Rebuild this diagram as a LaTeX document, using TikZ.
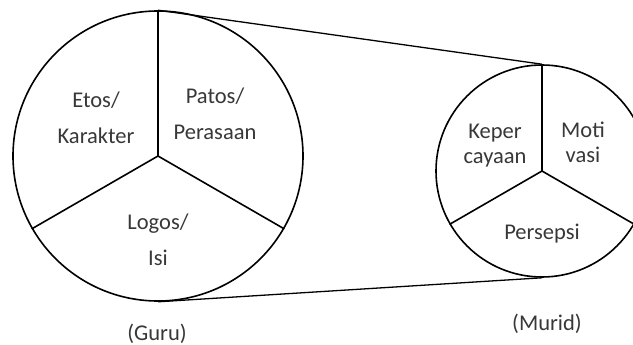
\documentclass[tikz,border=0pt]{standalone}
\usepackage{fontspec}
\setmainfont{Carlito}
\begin{document}
\begin{tikzpicture}[x=1pt,y=-1pt,
  ring/.style={circle,draw=black,line width=1.6pt,inner sep=0pt},
  spoke/.style={draw=black,line width=1.6pt},
  link/.style={draw=black,line width=1.3pt},
  lbl/.style={text=black!78,align=center,inner sep=0pt,font=\fontsize{22.5}{36}\selectfont},
  lbls/.style={text=black!78,align=center,inner sep=0pt,font=\fontsize{22.5}{25}\selectfont}]
\useasboundingbox (0,0) rectangle (633,345);
\clip (0,0) rectangle (633,345);
\fill[white] (0,0) rectangle (633,345);
\node[ring,minimum size=290pt] (big) at (158,156) {};
\node[ring,minimum size=212pt] (small) at (542,171) {};
\draw[spoke] (big.center) -- (big.90);
\draw[spoke] (big.center) -- (big.210);
\draw[spoke] (big.center) -- (big.330);
\draw[spoke] (small.center) -- (small.90);
\draw[spoke] (small.center) -- (small.210);
\draw[spoke] (small.center) -- (small.330);
\draw[link] (big.north) -- (small.north);
\draw[link] (big.south) -- (small.south);
\node[lbl] (etos) at (96,118) {Etos/\\Karakter};
\node[lbl] (patos) at (215,114) {Patos/\\Perasaan};
\node[lbl] (logos) at (158,240) {Logos/\\Isi};
\node[lbls] (keper) at (495,146) {Keper\\cayaan};
\node[lbls] (moti) at (583,142) {Moti\\vasi};
\node[lbls] (persepsi) at (542,234) {Persepsi};
\node[lbls] (guru) at (157,334) {(Guru)};
\node[lbls] (murid) at (547,324) {(Murid)};
\end{tikzpicture}
\end{document}
